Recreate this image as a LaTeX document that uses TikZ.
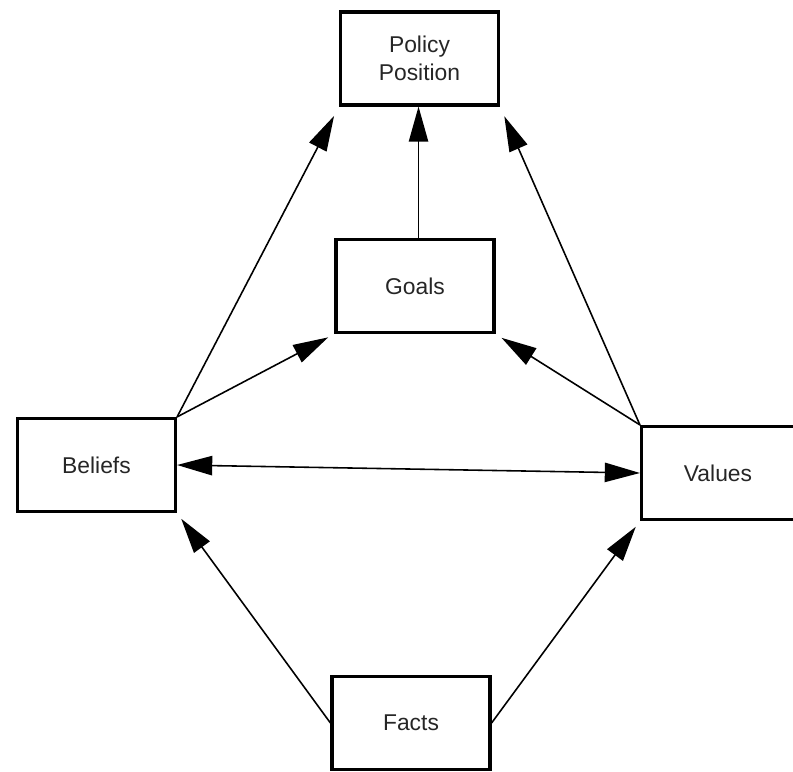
\documentclass[tikz,border=0pt]{standalone}
\usepackage{fontspec}
\setmainfont{Liberation Sans}
\usepackage{tikz}
\usetikzlibrary{arrows.meta}

\begin{document}
\begin{tikzpicture}[x=0.02cm,y=-0.02cm,
  box/.style={draw,line width=1.8pt,minimum width=3.16cm,minimum height=1.86cm,
    align=center,text=black!85,font=\fontsize{13}{16}\selectfont},
  link/.style={line width=0.9pt,-{Triangle[length=20pt,width=11pt]}}]
  \useasboundingbox (0,0) rectangle (793,771);
  % Boxes
  \node[box] (policy) at (419.5,58.5) {Policy\\Position};
  \node[box] (goals) at (415,286) {Goals};
  \node[box] (beliefs) at (96.5,465) {Beliefs};
  \node[box,minimum width=3.06cm] (values) at (718,473) {Values};
  \node[box] (facts) at (411,723) {Facts};
  % Into the policy position
  \draw[link,shorten >=6pt] (beliefs.north east) -- (policy.south west);
  \draw[link,shorten >=6pt] (values.north west) -- (policy.south east);
  \draw[link] ([xshift=2]goals.north) -- ([xshift=2]goals.north |- policy.south);
  % Into the goals
  \draw[link,shorten >=4pt] (beliefs.north east) -- (goals.south west);
  \draw[link,shorten >=4pt] (values.north west) -- (goals.south east);
  % Beliefs and values
  \draw[link,{Triangle[length=20pt,width=11pt]}-{Triangle[length=20pt,width=11pt]}]
    (beliefs.east) -- (values.west);
  % Facts feed both
  \draw[link,shorten >=4pt] (facts.west) -- (beliefs.south east);
  \draw[link,shorten >=4pt] (facts.east) -- (values.south west);
\end{tikzpicture}
\end{document}
